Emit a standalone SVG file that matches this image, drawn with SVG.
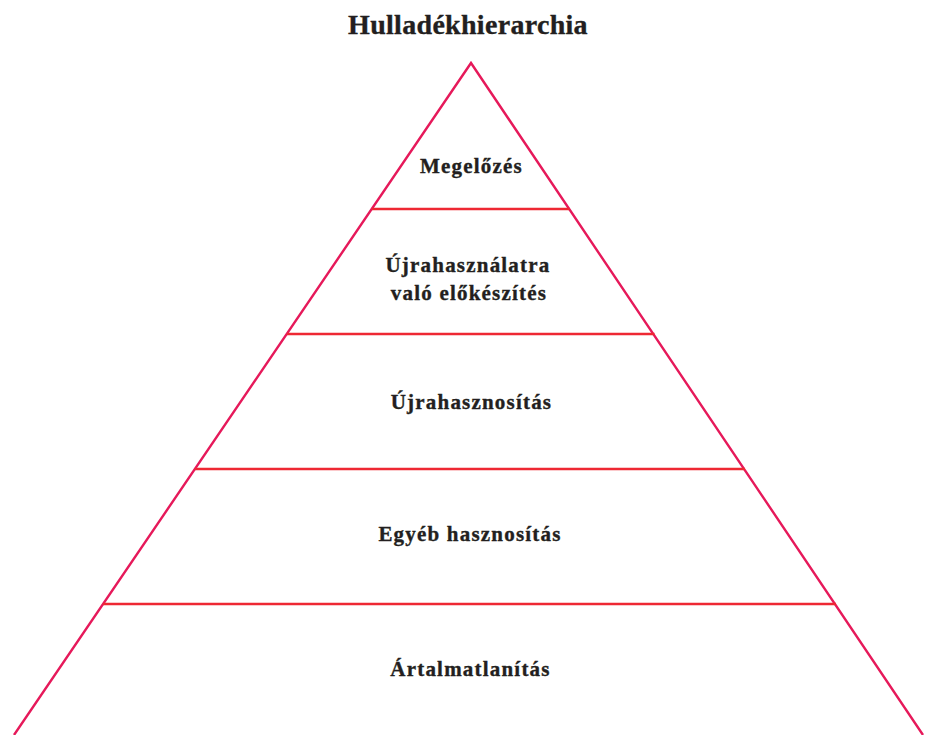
<svg xmlns="http://www.w3.org/2000/svg" width="925" height="735" viewBox="0 0 925 735">
<style>
.side{stroke:#e6195a;stroke-width:2.4;fill:none}
.tier{stroke:#ee2833;stroke-width:2.4;fill:none}
.lbl{font-family:"Liberation Serif","Times New Roman",serif;font-weight:bold;font-size:21px;letter-spacing:1.2px;fill:#231f20;stroke:#231f20;stroke-width:0.35;text-anchor:middle}
.title{font-family:"Liberation Serif","Times New Roman",serif;font-weight:bold;font-size:28px;letter-spacing:0.3px;fill:#231f20;stroke:#231f20;stroke-width:0.35;text-anchor:middle}
</style>
<rect width="925" height="735" fill="#fff"/>
<text class="title" x="468" y="34">Hulladékhierarchia</text>
<g id="connectors">
<polyline class="side" points="14,735 471,63 923,735"/>
<line class="tier" x1="372" y1="209" x2="569.5" y2="209"/>
<line class="tier" x1="287" y1="334" x2="654.5" y2="334"/>
<line class="tier" x1="195" y1="469" x2="745" y2="469"/>
<line class="tier" x1="103" y1="604" x2="836" y2="604"/>
</g>
<g id="n1"><text class="lbl" x="471.5" y="173">Megelőzés</text></g>
<g id="n2"><text class="lbl" x="468" y="272">Újrahasználatra</text><text class="lbl" x="469" y="300">való előkészítés</text></g>
<g id="n3"><text class="lbl" x="471.5" y="409">Újrahasznosítás</text></g>
<g id="n4"><text class="lbl" x="470" y="541">Egyéb hasznosítás</text></g>
<g id="n5"><text class="lbl" x="470.5" y="676">Ártalmatlanítás</text></g>
</svg>
